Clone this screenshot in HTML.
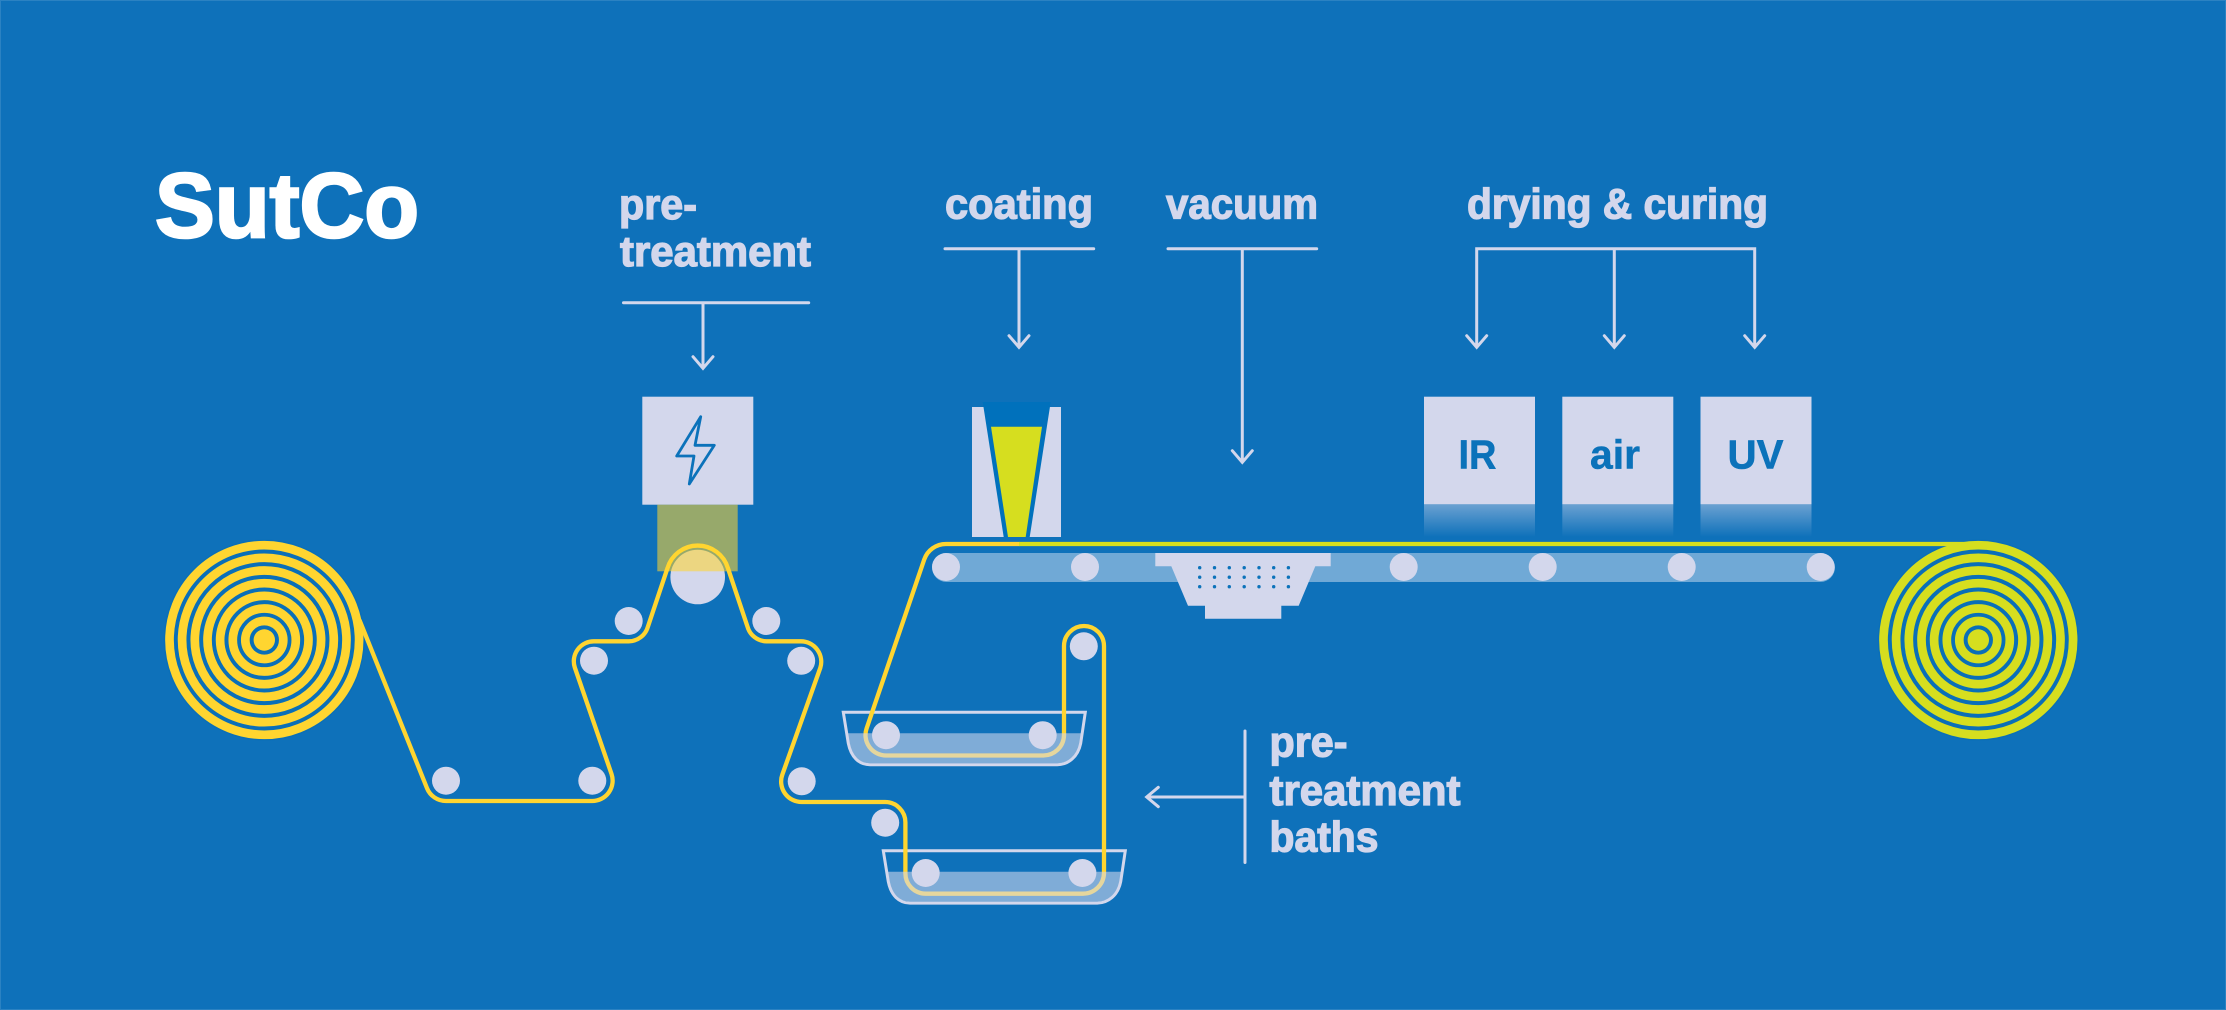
<!DOCTYPE html>
<html lang="en">
<head>
<meta charset="utf-8">
<title>SutCo</title>
<style>
html,body{margin:0;padding:0;background:#0e71ba;}
svg{display:block;}
text{font-family:"Liberation Sans",sans-serif;font-weight:700;}
.l{fill:#d3d7ec;stroke:#d3d7ec;stroke-width:1.3px;font-size:43px;}
.t{fill:#0b72ba;stroke:#0b72ba;stroke-width:.5px;font-size:41px;}
.a{fill:none;stroke:#d3d7ec;stroke-width:3;stroke-linecap:round;stroke-linejoin:miter;}
</style>
</head>
<body>
<svg xmlns="http://www.w3.org/2000/svg" width="2226" height="1010" viewBox="0 0 2226 1010">
<defs>
<linearGradient id="fade" x1="0" y1="0" x2="0" y2="1">
<stop offset="0" stop-color="#d3d7ec" stop-opacity=".47"/>
<stop offset="1" stop-color="#d3d7ec" stop-opacity="0"/>
</linearGradient>
</defs>
<rect width="2226" height="1010" fill="#0e71ba"/>
<rect x=".5" y=".5" width="2225" height="1009" fill="none" stroke="#fff" stroke-opacity=".12"/>

<!-- title -->
<text x="155" y="237" font-size="92" fill="#fff" stroke="#fff" stroke-width="2.6" textLength="264" lengthAdjust="spacingAndGlyphs">SutCo</text>

<!-- labels -->
<text class="l" x="619" y="219" textLength="78" lengthAdjust="spacingAndGlyphs">pre-</text>
<text class="l" x="620" y="266" textLength="191" lengthAdjust="spacingAndGlyphs">treatment</text>
<text class="l" x="945" y="218.5" textLength="148" lengthAdjust="spacingAndGlyphs">coating</text>
<text class="l" x="1166" y="218.5" textLength="152" lengthAdjust="spacingAndGlyphs">vacuum</text>
<text class="l" x="1467" y="218.5" textLength="301" lengthAdjust="spacingAndGlyphs">drying &amp; curing</text>
<text class="l" x="1269.5" y="756.5" textLength="78" lengthAdjust="spacingAndGlyphs">pre-</text>
<text class="l" x="1269.5" y="805" textLength="191" lengthAdjust="spacingAndGlyphs">treatment</text>
<text class="l" x="1269.5" y="851.5" textLength="109" lengthAdjust="spacingAndGlyphs">baths</text>

<!-- arrows -->
<path class="a" d="M623.5 302.7H808.7M703 302.7V367M693 356.7L703 368.3L713 356.7"/>
<path class="a" d="M945 248.7H1093.7M1019 248.7V346M1009 335.7L1019 347.3L1029 335.7"/>
<path class="a" d="M1168 248.7H1316.7M1242.3 248.7V461M1232.3 450.7L1242.3 462.3L1252.3 450.7"/>
<path class="a" d="M1476.7 346V248.7H1754.7V346M1614.3 248.7V346M1466.7 335.7L1476.7 347.3L1486.7 335.7M1604.3 335.7L1614.3 347.3L1624.3 335.7M1744.7 335.7L1754.7 347.3L1764.7 335.7"/>
<path class="a" d="M1245 731V862.5M1245 797H1148M1158.3 787.3L1146.7 797L1158.3 806.7"/>

<!-- coating head -->
<rect x="972" y="407" width="89" height="130" fill="#d3d7ec"/>
<path d="M982.7 402H1050.7L1029.7 537H1003.7Z" fill="#0071bc"/>
<path d="M991 426.7H1042L1025.7 537H1008Z" fill="#d6de1f"/>

<!-- boxes -->
<rect x="642.3" y="396.7" width="111" height="108" fill="#d3d7ec"/>
<path d="M700.7 416.7L676.7 456H694L689.3 484L714.3 445.3H695Z" fill="none" stroke="#0b72ba" stroke-width="2.8" stroke-linejoin="round"/>
<rect x="1424" y="396.7" width="111" height="107.6" fill="#d3d7ec"/>
<rect x="1562.3" y="396.7" width="111" height="107.6" fill="#d3d7ec"/>
<rect x="1700.5" y="396.7" width="111" height="107.6" fill="#d3d7ec"/>
<rect x="1424" y="504.3" width="111" height="32.5" fill="url(#fade)"/>
<rect x="1562.3" y="504.3" width="111" height="32.5" fill="url(#fade)"/>
<rect x="1700.5" y="504.3" width="111" height="32.5" fill="url(#fade)"/>
<text class="t" x="1458.5" y="468.3" textLength="38" lengthAdjust="spacingAndGlyphs">IR</text>
<text class="t" x="1590" y="468.3" textLength="50" lengthAdjust="spacingAndGlyphs">air</text>
<text class="t" x="1727.5" y="468.3" textLength="56" lengthAdjust="spacingAndGlyphs">UV</text>

<!-- conveyor -->
<rect x="932" y="553" width="903" height="29" rx="14.5" fill="#70a9d6"/>
<path d="M1155.3 553H1330.7V566.3H1315.3L1298.7 605.7H1281.3V618.7H1205V605.7H1188L1171.3 566.3H1155.3Z" fill="#d3d7ec"/>
<g fill="#0b72ba">
<circle cx="1199.7" cy="567.7" r="1.7"/><circle cx="1214.5" cy="567.7" r="1.7"/><circle cx="1229.3" cy="567.7" r="1.7"/><circle cx="1244.2" cy="567.7" r="1.7"/><circle cx="1259" cy="567.7" r="1.7"/><circle cx="1273.7" cy="567.7" r="1.7"/><circle cx="1288.4" cy="567.7" r="1.7"/>
<circle cx="1199.7" cy="577.2" r="1.7"/><circle cx="1214.5" cy="577.2" r="1.7"/><circle cx="1229.3" cy="577.2" r="1.7"/><circle cx="1244.2" cy="577.2" r="1.7"/><circle cx="1259" cy="577.2" r="1.7"/><circle cx="1273.7" cy="577.2" r="1.7"/><circle cx="1288.4" cy="577.2" r="1.7"/>
<circle cx="1199.7" cy="586.7" r="1.7"/><circle cx="1214.5" cy="586.7" r="1.7"/><circle cx="1229.3" cy="586.7" r="1.7"/><circle cx="1244.2" cy="586.7" r="1.7"/><circle cx="1259" cy="586.7" r="1.7"/><circle cx="1273.7" cy="586.7" r="1.7"/><circle cx="1288.4" cy="586.7" r="1.7"/>
</g>

<!-- big roller & treatment zone -->
<circle cx="697.7" cy="577" r="27.3" fill="#d3d7ec"/>
<rect x="657.3" y="504.7" width="80.4" height="66.6" fill="#ffd530" fill-opacity=".57"/>

<!-- bath outlines -->
<path d="M843.3 712.3H1085.3L1080.7 743.3C1078 757 1068 764.7 1057.3 764.7H870C859 764.7 851 757 848.3 743.3Z" fill="none" stroke="#d3d7ec" stroke-width="3"/>
<path transform="translate(40 138.4)" d="M843.3 712.3H1085.3L1080.7 743.3C1078 757 1068 764.7 1057.3 764.7H870C859 764.7 851 757 848.3 743.3Z" fill="none" stroke="#d3d7ec" stroke-width="3"/>

<!-- left roll -->
<circle cx="264.3" cy="640" r="100.5" fill="#0a6fb8"/>
<g fill="none" stroke="#ffd530" stroke-width="8.7">
<circle cx="264.3" cy="640" r="94.8"/><circle cx="264.3" cy="640" r="82.2"/><circle cx="264.3" cy="640" r="69.5"/><circle cx="264.3" cy="640" r="56.8"/><circle cx="264.3" cy="640" r="44.2"/><circle cx="264.3" cy="640" r="31.5"/><circle cx="264.3" cy="640" r="19"/>
</g>
<circle cx="264.3" cy="640" r="10.7" fill="#ffd530"/>

<!-- right roll -->
<circle cx="1978.3" cy="640" r="100.5" fill="#0a6fb8"/>
<g fill="none" stroke="#d6de1f" stroke-width="8.7">
<circle cx="1978.3" cy="640" r="94.8"/><circle cx="1978.3" cy="640" r="82.2"/><circle cx="1978.3" cy="640" r="69.5"/><circle cx="1978.3" cy="640" r="56.8"/><circle cx="1978.3" cy="640" r="44.2"/><circle cx="1978.3" cy="640" r="31.5"/><circle cx="1978.3" cy="640" r="19"/>
</g>
<circle cx="1978.3" cy="640" r="10.7" fill="#d6de1f"/>

<!-- web -->
<path fill="none" stroke="#ffd530" stroke-width="4.3" stroke-linejoin="round" d="M359.5 620L427 788.2A20.4 20.4 0 0 0 446 801H592.3A20.4 20.4 0 0 0 611.5 773.9L574.8 667.5A20 20 0 0 1 594 641.3H628.7A20 20 0 0 0 647.9 626.7L667.5 568.1A31.5 31.5 0 0 1 727.9 568.1L747.5 626.7A20 20 0 0 0 766.3 641.3H801A20.5 20.5 0 0 1 820.3 667.9L782.4 774.4A20.5 20.5 0 0 0 801.7 802H885A20.4 20.4 0 0 1 905.4 822.7V873A20.4 20.4 0 0 0 925.7 893.7H1083A21 21 0 0 0 1104 873V646A20 20 0 0 0 1064 646V735A20.7 20.7 0 0 1 1042.7 755.5H886A20.5 20.5 0 0 1 866.6 728.4L924.2 559.6A23 23 0 0 1 946 544H1019.5"/>
<path d="M1019 544H1978" fill="none" stroke="#d6de1f" stroke-width="4.3"/>

<!-- water -->
<path d="M846.7 733.3H1082L1080.7 743.3C1078 757 1068 763.2 1057.3 763.2H870C859 763.2 851 757 848.3 743.3Z" fill="#d3d7ec" fill-opacity=".58"/>
<path transform="translate(40 138.4)" d="M846.7 733.3H1082L1080.7 743.3C1078 757 1068 763.2 1057.3 763.2H870C859 763.2 851 757 848.3 743.3Z" fill="#d3d7ec" fill-opacity=".58"/>

<!-- rollers -->
<g fill="#d3d7ec">
<circle cx="446" cy="780.7" r="14"/><circle cx="592.3" cy="780.7" r="14"/>
<circle cx="594" cy="660.7" r="14"/><circle cx="628.7" cy="621" r="14"/>
<circle cx="766.3" cy="621" r="14"/><circle cx="801.2" cy="660.8" r="14"/>
<circle cx="801.7" cy="781.3" r="14"/><circle cx="885.2" cy="822.7" r="14"/>
<circle cx="886" cy="735.2" r="14"/><circle cx="1042.7" cy="735.2" r="14"/>
<circle cx="1083.8" cy="646.3" r="14"/><circle cx="925.7" cy="873" r="14"/><circle cx="1082.4" cy="873" r="14"/>
<circle cx="946" cy="567" r="14"/><circle cx="1085" cy="567" r="14"/>
<circle cx="1403.7" cy="567" r="14"/><circle cx="1542.7" cy="567" r="14"/>
<circle cx="1681.7" cy="567" r="14"/><circle cx="1820.7" cy="567" r="14"/>
</g>
</svg>
</body>
</html>
